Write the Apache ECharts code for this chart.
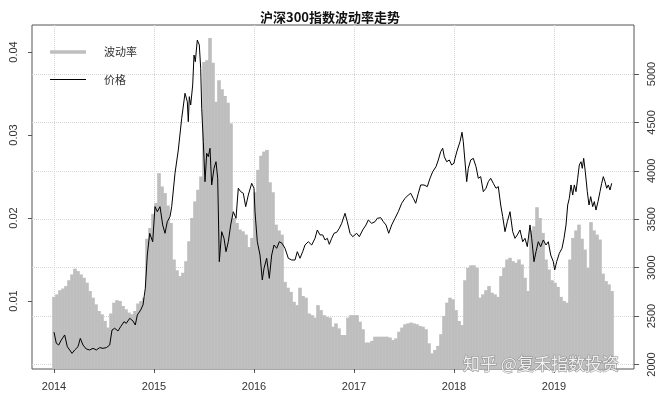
<!DOCTYPE html>
<html>
<head>
<meta charset="utf-8">
<script src="https://cdn.jsdelivr.net/npm/echarts@6/dist/echarts.min.js"></script>
<style>html,body{margin:0;padding:0;background:#fff}#c{width:660px;height:398px}</style>
</head>
<body>
<div id="c"></div>
<script>
// ---- data ----
const titleText = '沪深300指数波动率走势';
const legendNames = ['波动率', '价格'];
const yearTicks = [2014, 2015, 2016, 2017, 2018, 2019];
const volTicks = [0.01, 0.02, 0.03, 0.04];
const priceTicks = [2000, 2500, 3000, 3500, 4000, 4500, 5000];

// volatility sampled from 2014.00, one value every 0.03 year
const volStart = 2014.0;
const volStep = 0.03;
const volValues = [
  0.0105,0.0108,0.0113,0.0115,0.0118,0.0125,0.0132,0.0139,0.0136,0.0132,
  0.0128,0.0122,0.0112,0.0104,0.0096,0.0088,0.0084,0.0076,0.0068,0.0085,
  0.0098,0.0101,0.0100,0.0094,0.0090,0.0086,0.0084,0.0088,0.0097,0.0100,
  0.0104,0.0175,0.0188,0.0205,0.0218,0.0254,0.0238,0.0230,0.0215,0.0194,
  0.0150,0.0137,0.0130,0.0134,0.0148,0.0172,0.0200,0.0220,0.0234,0.0250,
  0.0388,0.0390,0.0417,0.0387,0.0340,0.0366,0.0355,0.0347,0.0339,0.0314,
  0.0200,0.0194,0.0186,0.0184,0.0180,0.0165,0.0176,0.0231,0.0258,0.0275,
  0.0280,0.0282,0.0243,0.0231,0.0192,0.0185,0.0180,0.0123,0.0116,0.0111,
  0.0099,0.0095,0.0116,0.0106,0.0104,0.0085,0.0083,0.0080,0.0095,0.0089,
  0.0083,0.0081,0.0080,0.0069,0.0073,0.0067,0.0059,0.0059,0.0080,0.0083,
  0.0083,0.0083,0.0075,0.0066,0.0050,0.0050,0.0052,0.0057,0.0057,0.0057,
  0.0057,0.0057,0.0056,0.0053,0.0055,0.0063,0.0068,0.0072,0.0073,0.0074,
  0.0073,0.0072,0.0070,0.0069,0.0066,0.0049,0.0037,0.0041,0.0046,0.0060,
  0.0082,0.0098,0.0104,0.0102,0.0089,0.0076,0.0071,0.0125,0.0140,0.0143,
  0.0143,0.0140,0.0104,0.0108,0.0113,0.0118,0.0110,0.0108,0.0105,0.0130,
  0.0140,0.0150,0.0152,0.0148,0.0146,0.0150,0.0144,0.0128,0.0112,0.0185,
  0.0190,0.0213,0.0200,0.0182,0.0150,0.0138,0.0125,0.0122,0.0117,0.0105,
  0.0100,0.0098,0.0150,0.0176,0.0185,0.0192,0.0175,0.0162,0.0140,0.0195,
  0.0185,0.0180,0.0174,0.0133,0.0124,0.0120,0.0112
];

// CSI 300 price, dates in decimal years
const priceDates = [
  2014.000,2014.023,2014.047,2014.073,2014.107,2014.133,2014.157,2014.180,2014.207,2014.240,
  2014.263,2014.290,2014.323,2014.357,2014.390,2014.423,2014.457,2014.490,2014.523,2014.557,
  2014.580,2014.607,2014.640,2014.667,2014.700,2014.723,2014.757,2014.790,2014.813,2014.833,
  2014.867,2014.890,2014.913,2014.933,2014.957,2014.987,2015.010,2015.033,2015.060,2015.087,
  2015.110,2015.133,2015.160,2015.177,2015.210,2015.243,2015.277,2015.310,2015.333,2015.343,
  2015.353,2015.367,2015.387,2015.400,2015.413,2015.433,2015.453,2015.467,2015.477,2015.493,
  2015.510,2015.527,2015.543,2015.560,2015.577,2015.600,2015.620,2015.637,2015.653,2015.677,
  2015.700,2015.720,2015.743,2015.767,2015.793,2015.820,2015.843,2015.867,2015.893,2015.917,
  2015.943,2015.977,2016.000,2016.010,2016.033,2016.060,2016.083,2016.100,2016.127,2016.153,
  2016.177,2016.200,2016.227,2016.253,2016.280,2016.310,2016.343,2016.377,2016.410,2016.433,
  2016.460,2016.487,2016.510,2016.543,2016.577,2016.610,2016.633,2016.660,2016.687,2016.710,
  2016.733,2016.753,2016.777,2016.800,2016.827,2016.853,2016.877,2016.910,2016.933,2016.960,
  2016.987,2017.027,2017.053,2017.087,2017.120,2017.143,2017.177,2017.210,2017.233,2017.267,
  2017.293,2017.320,2017.347,2017.377,2017.410,2017.443,2017.477,2017.510,2017.543,2017.567,
  2017.593,2017.617,2017.643,2017.667,2017.700,2017.733,2017.760,2017.787,2017.820,2017.843,
  2017.867,2017.887,2017.903,2017.927,2017.953,2017.977,2018.000,2018.010,2018.033,2018.060,
  2018.080,2018.093,2018.110,2018.127,2018.143,2018.167,2018.193,2018.220,2018.243,2018.267,
  2018.293,2018.320,2018.343,2018.367,2018.393,2018.420,2018.443,2018.467,2018.487,2018.510,
  2018.533,2018.560,2018.587,2018.610,2018.633,2018.660,2018.687,2018.710,2018.733,2018.760,
  2018.777,2018.800,2018.820,2018.843,2018.867,2018.893,2018.920,2018.943,2018.967,2018.993,
  2019.007,2019.027,2019.053,2019.080,2019.100,2019.120,2019.137,2019.153,2019.170,2019.187,
  2019.203,2019.220,2019.237,2019.253,2019.270,2019.283,2019.297,2019.313,2019.333,2019.350,
  2019.367,2019.387,2019.403,2019.420,2019.440,2019.460,2019.477,2019.493,2019.510,2019.527,
  2019.543,2019.560,2019.577
];
const priceValues = [
  2334,2219,2201,2253,2305,2184,2150,2115,2150,2184,
  2270,2201,2160,2150,2167,2150,2174,2167,2174,2201,
  2356,2374,2346,2391,2442,2425,2477,2449,2408,2511,
  2563,2615,2787,3131,3355,3268,3630,3578,3630,3441,
  3355,3475,3527,3630,3975,4215,4542,4801,4714,4508,
  4766,4680,4886,5196,5127,5351,5300,5059,4646,4301,
  3888,4181,4146,4233,3854,4026,4094,3923,3062,3372,
  3303,3165,3268,3441,3578,3510,3820,3785,3768,3630,
  3750,3871,3820,3578,3268,3131,2873,2993,3097,2890,
  3131,3234,3200,3268,3252,3200,3097,3079,3079,3165,
  3097,3165,3234,3268,3234,3303,3389,3338,3338,3286,
  3303,3241,3303,3355,3365,3406,3458,3561,3475,3355,
  3320,3355,3320,3389,3441,3492,3458,3475,3510,3516,
  3475,3441,3355,3441,3510,3578,3665,3716,3750,3768,
  3716,3665,3768,3854,3854,3837,3923,3991,4043,4112,
  4198,4233,4146,4094,4112,4060,4080,4129,4215,4301,
  4398,4301,4284,3888,4026,4112,4129,4043,3923,3940,
  3785,3820,3888,3923,3871,3820,3837,3647,3527,3372,
  3475,3578,3372,3303,3338,3389,3268,3303,3217,3441,
  3303,3062,3165,3268,3217,3286,3234,3268,3131,3062,
  2976,3062,3148,3200,3303,3441,3647,3716,3854,3750,
  3854,3785,3923,4060,4094,4026,4129,3991,3785,3647,
  3733,3630,3682,3595,3682,3785,3871,3940,3888,3820,
  3854,3802,3871
];

// ---- chart ----
const chart = echarts.init(document.getElementById('c'), null, {renderer: 'canvas'});
const volData = volValues.map((v, i) => [volStart + i * volStep, v]);
const priceData = priceDates.map((d, i) => [d, priceValues[i]]);
const axisFont = '"Liberation Sans", Arial, sans-serif';
const cjkFont = '"Noto Sans CJK SC", sans-serif';
const gridLine = {show: true, lineStyle: {color: '#d6d6d6', type: 'dotted', width: 1}};

chart.setOption({
  animation: false,
  backgroundColor: '#fff',
  title: {
    text: titleText, left: 'center', top: 6,
    textStyle: {fontSize: 13, fontWeight: 'bold', color: '#111', fontFamily: cjkFont}
  },
  grid: {left: 32, right: 26, top: 25, bottom: 29, show: true, borderColor: '#555', borderWidth: 1, backgroundColor: 'transparent'},
  xAxis: {
    type: 'value', min: 2013.78, max: 2019.8,
    axisLine: {show: false},
    axisTick: {show: true, customValues: yearTicks, length: 4, lineStyle: {color: '#555'}},
    axisLabel: {customValues: yearTicks, formatter: v => String(Math.round(v)), color: '#333', fontSize: 11, margin: 12, fontFamily: axisFont},
    splitLine: gridLine
  },
  yAxis: [
    {
      type: 'value', position: 'left', min: 0.001807, max: 0.043253,
      axisLine: {show: false},
      axisTick: {show: true, customValues: volTicks, length: 4, lineStyle: {color: '#555'}},
      axisLabel: {customValues: volTicks, formatter: v => v.toFixed(2), rotate: 90, color: '#333', fontSize: 11, margin: 13, fontFamily: axisFont},
      splitLine: {show: false}
    },
    {
      type: 'value', position: 'right', min: 1953.5, max: 5506,
      axisLine: {show: false},
      axisTick: {show: true, customValues: priceTicks, length: 5, lineStyle: {color: '#555'}},
      axisLabel: {customValues: priceTicks, formatter: v => String(Math.round(v)), rotate: 90, color: '#333', fontSize: 11, margin: 12, fontFamily: axisFont},
      splitLine: gridLine
    }
  ],
  series: [
    {
      name: legendNames[0], type: 'bar', xAxisIndex: 0, yAxisIndex: 0,
      data: volData, barWidth: 3.6, itemStyle: {color: '#bebebe'}, z: 2, clip: true
    },
    {
      name: legendNames[1], type: 'line', xAxisIndex: 0, yAxisIndex: 1,
      data: priceData, showSymbol: false, symbol: 'none',
      lineStyle: {color: '#000', width: 1}, z: 3
    }
  ],
  graphic: [
    {type: 'line', shape: {x1: 50, y1: 52, x2: 86, y2: 52}, style: {stroke: '#bebebe', lineWidth: 3.5}, z: 10},
    {type: 'line', shape: {x1: 50, y1: 79.5, x2: 86, y2: 79.5}, style: {stroke: '#000', lineWidth: 1}, z: 10},
    {type: 'text', x: 104, y: 52, style: {text: legendNames[0], fill: '#333', font: '11px ' + cjkFont, verticalAlign: 'middle'}, z: 10},
    {type: 'text', x: 104, y: 80, style: {text: legendNames[1], fill: '#333', font: '11px ' + cjkFont, verticalAlign: 'middle'}, z: 10},
    {type: 'text', x: 463, y: 364, style: {text: '知乎 @复禾指数投资', fill: 'rgba(255,255,255,0.85)', stroke: '#8c8c8c', lineWidth: 1, font: '17px ' + cjkFont, verticalAlign: 'middle'}, z: 20}
  ]
});
</script>
</body>
</html>
